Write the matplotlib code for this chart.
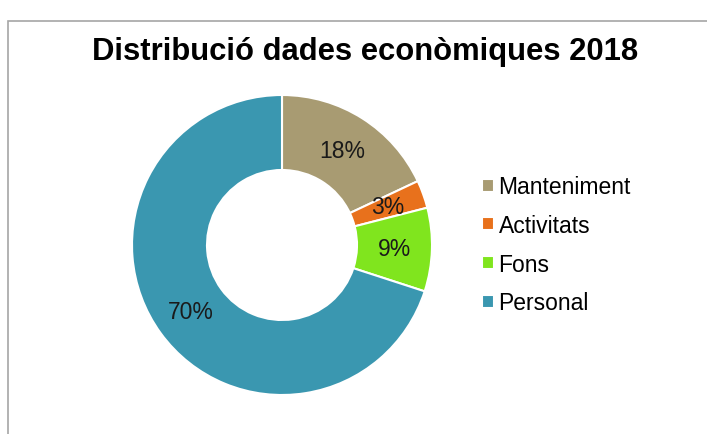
import matplotlib
matplotlib.use("Agg")
import matplotlib.pyplot as plt
from matplotlib.patches import Rectangle

plt.rcParams['font.family'] = ['Liberation Sans', 'DejaVu Sans']

categories = ["Manteniment", "Activitats", "Fons", "Personal"]
values = [18, 3, 9, 70]
colors = ["#A89B72", "#E8711C", "#80E51E", "#3A97B0"]
title = "Distribució dades econòmiques 2018"

W, H = 707, 435
fig = plt.figure(figsize=(W / 100, H / 100), dpi=100)
fig.patch.set_facecolor("white")

# chart area frame (open on the right and bottom)
fig.add_artist(Rectangle((8 / W, -0.1), 1.2, (H - 22) / H + 0.1,
                         transform=fig.transFigure, fill=False,
                         edgecolor="#A6A6A6", linewidth=1.2))

cx, cy, r = 282, 246, 150
ax = fig.add_axes([(cx - r) / W, (H - cy - r) / H, 2 * r / W, 2 * r / H])
wedges, texts, autotexts = ax.pie(
    values, colors=colors, startangle=90, counterclock=False,
    radius=1.0, autopct=lambda p: f"{p:.0f}%", pctdistance=0.75,
    wedgeprops=dict(width=0.5, edgecolor="white", linewidth=1.5),
    textprops=dict(fontsize=16.5, color="#1a1a1a"))
ax.set_xlim(-1, 1)
ax.set_ylim(-1, 1)
ax.set_aspect("equal")
ax.axis("off")

fig.text(365 / W, 1 - 52 / H, title, ha="center", va="center",
         fontsize=22.3, fontweight="bold", color="black")

fig.legend(wedges, categories, loc="upper left",
           bbox_to_anchor=(471 / W, 1 - 165 / H), frameon=False,
           fontsize=16.5, handlelength=0.5, handleheight=0.5,
           handletextpad=0.2, labelspacing=0.68, borderpad=0)

fig.savefig("out.png", dpi=100, facecolor="white")
